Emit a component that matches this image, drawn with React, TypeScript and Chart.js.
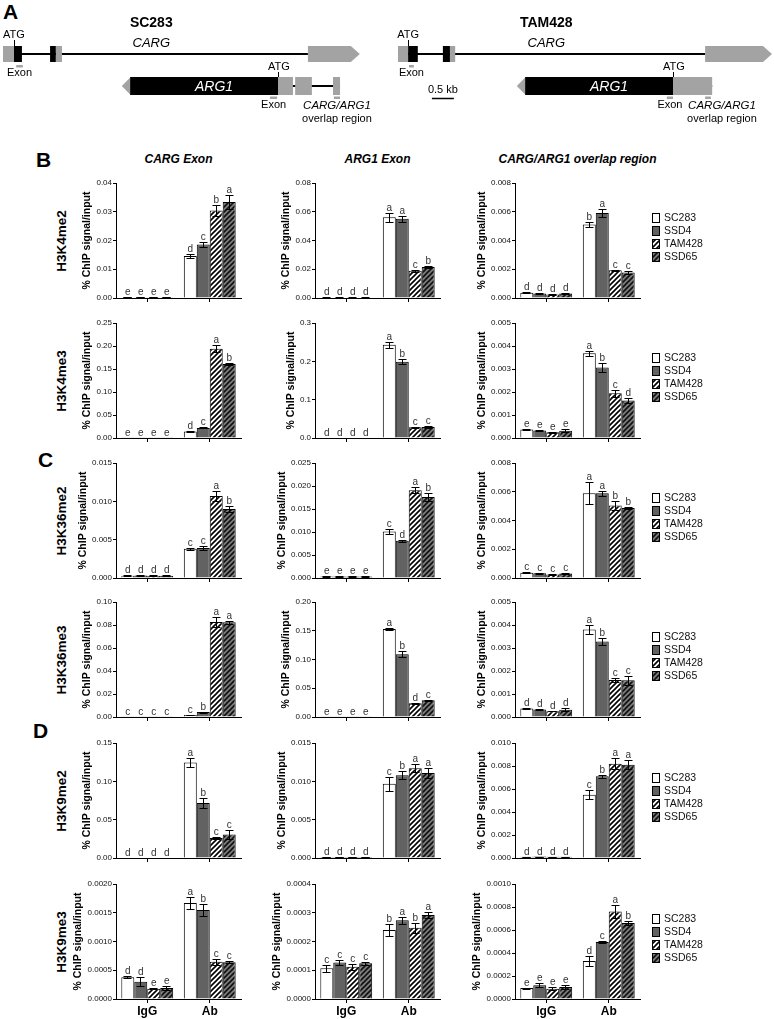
import React, { useEffect, useRef } from 'react';
import { Chart, registerables } from 'chart.js';

Chart.register(...registerables);
Chart.defaults.font.family = "'Liberation Sans', Arial, Helvetica, sans-serif";

const FONT = "'Liberation Sans', Arial, Helvetica, sans-serif";

// ---------- categories ----------
const GROUPS = ['IgG', 'Ab'];
const LINES = ['SC283', 'SSD4', 'TAM428', 'SSD65'];
const MARKS = ['H3K4me2', 'H3K4me3', 'H3K36me2', 'H3K36me3', 'H3K9me2', 'H3K9me3'];
const REGIONS = ['CARG Exon', 'ARG1 Exon', 'CARG/ARG1 overlap region'];
const PANEL_LETTERS = ['B', 'C', 'D'];

// order inside each array: IgG(SC283, SSD4, TAM428, SSD65), Ab(SC283, SSD4, TAM428, SSD65)

// ---------- H3K4me2 ----------
const K4ME2_CARG_MEAN = [0.0003, 0.0003, 0.0003, 0.0003, 0.0146, 0.0186, 0.0304, 0.0334];
const K4ME2_CARG_ERR = [0.00005, 0.00005, 0.00005, 0.00005, 0.0007, 0.001, 0.002, 0.0026];
const K4ME2_CARG_SIG = ['e', 'e', 'e', 'e', 'd', 'c', 'b', 'a'];
const K4ME2_CARG_TICKS = ['0.00', '0.01', '0.02', '0.03', '0.04'];

const K4ME2_ARG1_MEAN = [0.0004, 0.0004, 0.0004, 0.0004, 0.0562, 0.0551, 0.019, 0.0215];
const K4ME2_ARG1_ERR = [0.0001, 0.0001, 0.0001, 0.0001, 0.0032, 0.0022, 0.0008, 0.0008];
const K4ME2_ARG1_SIG = ['d', 'd', 'd', 'd', 'a', 'a', 'c', 'b'];
const K4ME2_ARG1_TICKS = ['0.00', '0.02', '0.04', '0.06', '0.08'];

const K4ME2_OVL_MEAN = [0.00036, 0.00032, 0.00025, 0.00031, 0.00512, 0.00592, 0.00193, 0.00177];
const K4ME2_OVL_ERR = [0.00003, 0.00002, 0.00002, 0.00006, 0.0002, 0.00028, 0.00005, 0.00009];
const K4ME2_OVL_SIG = ['d', 'd', 'd', 'd', 'b', 'a', 'c', 'c'];
const K4ME2_OVL_TICKS = ['0.000', '0.002', '0.004', '0.006', '0.008'];

// ---------- H3K4me3 ----------
const K4ME3_CARG_MEAN = [0.0006, 0.0006, 0.0006, 0.0006, 0.014, 0.022, 0.194, 0.161];
const K4ME3_CARG_ERR = [0.0002, 0.0002, 0.0002, 0.0002, 0.001, 0.001, 0.008, 0.003];
const K4ME3_CARG_SIG = ['e', 'e', 'e', 'e', 'd', 'c', 'a', 'b'];
const K4ME3_CARG_TICKS = ['0.00', '0.05', '0.10', '0.15', '0.20', '0.25'];

const K4ME3_ARG1_MEAN = [0.001, 0.001, 0.001, 0.001, 0.243, 0.199, 0.028, 0.029];
const K4ME3_ARG1_ERR = [0.0003, 0.0003, 0.0003, 0.0003, 0.008, 0.007, 0.002, 0.002];
const K4ME3_ARG1_SIG = ['d', 'd', 'd', 'd', 'a', 'b', 'c', 'c'];
const K4ME3_ARG1_TICKS = ['0.0', '0.1', '0.2', '0.3'];

const K4ME3_OVL_MEAN = [0.00037, 0.00033, 0.00025, 0.00031, 0.00368, 0.00307, 0.00195, 0.00163];
const K4ME3_OVL_ERR = [0.00003, 0.00002, 0.00002, 0.00006, 0.00011, 0.0002, 0.00015, 0.0001];
const K4ME3_OVL_SIG = ['e', 'e', 'e', 'e', 'a', 'b', 'c', 'd'];
const K4ME3_OVL_TICKS = ['0.000', '0.001', '0.002', '0.003', '0.004', '0.005'];

// ---------- H3K36me2 ----------
const K36ME2_CARG_MEAN = [0.0003, 0.00033, 0.0003, 0.00028, 0.0038, 0.0039, 0.0107, 0.009];
const K36ME2_CARG_ERR = [0.00005, 0.00005, 0.0001, 0.00005, 0.00015, 0.0003, 0.0006, 0.0004];
const K36ME2_CARG_SIG = ['d', 'd', 'd', 'd', 'c', 'c', 'a', 'b'];
const K36ME2_CARG_TICKS = ['0.000', '0.005', '0.010', '0.015'];

const K36ME2_ARG1_MEAN = [0.0003, 0.0003, 0.0003, 0.0003, 0.0101, 0.0081, 0.0191, 0.0176];
const K36ME2_ARG1_ERR = [0.00005, 0.00005, 0.00005, 0.00005, 0.0005, 0.0002, 0.0007, 0.0009];
const K36ME2_ARG1_SIG = ['e', 'e', 'e', 'e', 'c', 'd', 'a', 'b'];
const K36ME2_ARG1_TICKS = ['0.000', '0.005', '0.010', '0.015', '0.020', '0.025'];

const K36ME2_OVL_MEAN = [0.00037, 0.00033, 0.00025, 0.00031, 0.0059, 0.0059, 0.00505, 0.00487];
const K36ME2_OVL_ERR = [0.00002, 0.00002, 0.00002, 0.00005, 0.00078, 0.00018, 0.0003, 0.0001];
const K36ME2_OVL_SIG = ['c', 'c', 'c', 'c', 'a', 'a', 'b', 'b'];
const K36ME2_OVL_TICKS = ['0.000', '0.002', '0.004', '0.006', '0.008'];

// ---------- H3K36me3 ----------
const K36ME3_CARG_MEAN = [0.0003, 0.0003, 0.0003, 0.0003, 0.0018, 0.0043, 0.0826, 0.0823];
const K36ME3_CARG_ERR = [0.0001, 0.0001, 0.0001, 0.0001, 0.0003, 0.0004, 0.004, 0.0015];
const K36ME3_CARG_SIG = ['c', 'c', 'c', 'c', 'c', 'b', 'a', 'a'];
const K36ME3_CARG_TICKS = ['0.00', '0.02', '0.04', '0.06', '0.08', '0.10'];

const K36ME3_ARG1_MEAN = [0.0005, 0.0005, 0.0005, 0.0005, 0.153, 0.109, 0.024, 0.029];
const K36ME3_ARG1_ERR = [0.0002, 0.0002, 0.0002, 0.0002, 0.002, 0.005, 0.0012, 0.0012];
const K36ME3_ARG1_SIG = ['e', 'e', 'e', 'e', 'a', 'b', 'd', 'c'];
const K36ME3_ARG1_TICKS = ['0.00', '0.05', '0.10', '0.15', '0.20'];

const K36ME3_OVL_MEAN = [0.00037, 0.00033, 0.00025, 0.00031, 0.0038, 0.00328, 0.00161, 0.0016];
const K36ME3_OVL_ERR = [0.00003, 0.00002, 0.00001, 0.00006, 0.0002, 0.00015, 0.00007, 0.0002];
const K36ME3_OVL_SIG = ['d', 'd', 'd', 'd', 'a', 'b', 'c', 'c'];
const K36ME3_OVL_TICKS = ['0.000', '0.001', '0.002', '0.003', '0.004', '0.005'];

// ---------- H3K9me2 ----------
const K9ME2_CARG_MEAN = [0.0005, 0.0005, 0.0005, 0.0005, 0.1245, 0.0717, 0.026, 0.0305];
const K9ME2_CARG_ERR = [0.0001, 0.0001, 0.0001, 0.0001, 0.006, 0.006, 0.0015, 0.0055];
const K9ME2_CARG_SIG = ['d', 'd', 'd', 'd', 'a', 'b', 'c', 'c'];
const K9ME2_CARG_TICKS = ['0.00', '0.05', '0.10', '0.15'];

const K9ME2_ARG1_MEAN = [0.00012, 0.00012, 0.00012, 0.00012, 0.0097, 0.0108, 0.0117, 0.0111];
const K9ME2_ARG1_ERR = [0.00002, 0.00002, 0.00002, 0.00002, 0.0009, 0.0005, 0.0005, 0.0007];
const K9ME2_ARG1_SIG = ['d', 'd', 'd', 'd', 'c', 'b', 'a', 'a'];
const K9ME2_ARG1_TICKS = ['0.000', '0.005', '0.010', '0.015'];

const K9ME2_OVL_MEAN = [0.0001, 0.00012, 0.0001, 0.00011, 0.0055, 0.0071, 0.0082, 0.0081];
const K9ME2_OVL_ERR = [0.00001, 0.00001, 0.00001, 0.00001, 0.0004, 0.00015, 0.0005, 0.0004];
const K9ME2_OVL_SIG = ['d', 'd', 'd', 'd', 'c', 'b', 'a', 'a'];
const K9ME2_OVL_TICKS = ['0.000', '0.002', '0.004', '0.006', '0.008', '0.010'];

// ---------- H3K9me3 ----------
const K9ME3_CARG_MEAN = [0.00038, 0.0003, 0.00018, 0.00019, 0.00167, 0.00155, 0.00065, 0.00064];
const K9ME3_CARG_ERR = [0.00002, 0.00008, 0.00001, 0.00003, 0.0001, 0.0001, 0.00005, 0.00002];
const K9ME3_CARG_SIG = ['d', 'd', 'e', 'e', 'a', 'b', 'c', 'c'];
const K9ME3_CARG_TICKS = ['0.0000', '0.0005', '0.0010', '0.0015', '0.0020'];

const K9ME3_ARG1_MEAN = [0.000107, 0.000127, 0.000112, 0.000124, 0.00024, 0.000274, 0.000248, 0.000292];
const K9ME3_ARG1_ERR = [0.000012, 0.000007, 0.00001, 0.000006, 0.00002, 0.000012, 0.000017, 0.00001];
const K9ME3_ARG1_SIG = ['c', 'c', 'c', 'c', 'b', 'a', 'b', 'a'];
const K9ME3_ARG1_TICKS = ['0.0000', '0.0001', '0.0002', '0.0003', '0.0004'];

const K9ME3_OVL_MEAN = [0.000095, 0.00012, 0.00009, 0.000105, 0.00033, 0.000495, 0.00076, 0.00066];
const K9ME3_OVL_ERR = [0.000005, 0.000015, 0.000015, 0.00002, 0.000045, 0.000008, 0.000055, 0.00002];
const K9ME3_OVL_SIG = ['e', 'e', 'e', 'e', 'd', 'c', 'a', 'b'];
const K9ME3_OVL_TICKS = ['0.0000', '0.0002', '0.0004', '0.0006', '0.0008', '0.0010'];

// ---------- gene diagram features (kb from CARG start) ----------
const SC283_CARG_GRAY = [[0, 0.25], [1.2, 1.34]];
const SC283_CARG_CDS = [[0.25, 0.43], [1.07, 1.2]];
const SC283_CARG_UTR3 = [6.93, 8.11];
const SC283_ARG1_TIP = [2.7, 2.89];
const SC283_ARG1_CDS = [2.89, 6.25];
const SC283_ARG1_GRAY = [[6.25, 6.59], [6.64, 7.02], [7.5, 7.66]];
const SC283_ATG = [0.25, 6.25];
const SC283_PROBES = [[0.3, 0.45], [6.07, 6.23], [7.52, 7.66]];

const TAM428_CARG_GRAY = [[0, 0.23], [1.18, 1.3]];
const TAM428_CARG_CDS = [[0.23, 0.45], [1.02, 1.18]];
const TAM428_CARG_UTR3 = [6.98, 8.5];
const TAM428_ARG1_TIP = [2.7, 2.89];
const TAM428_ARG1_CDS = [2.89, 6.25];
const TAM428_ARG1_GRAY = [[6.25, 7.14]];
const TAM428_ATG = [0.23, 6.25];
const TAM428_PROBES = [[0.25, 0.36], [6.11, 6.25], [6.98, 7.11]];
const SCALE_BAR_KB = [0.77, 1.27];

// ---------- tables built from the arrays ----------
type PanelData = { mean: number[]; err: number[]; sig: string[]; ticks: string[] };
const PANELS: PanelData[][] = [
  [
    { mean: K4ME2_CARG_MEAN, err: K4ME2_CARG_ERR, sig: K4ME2_CARG_SIG, ticks: K4ME2_CARG_TICKS },
    { mean: K4ME2_ARG1_MEAN, err: K4ME2_ARG1_ERR, sig: K4ME2_ARG1_SIG, ticks: K4ME2_ARG1_TICKS },
    { mean: K4ME2_OVL_MEAN, err: K4ME2_OVL_ERR, sig: K4ME2_OVL_SIG, ticks: K4ME2_OVL_TICKS },
  ],
  [
    { mean: K4ME3_CARG_MEAN, err: K4ME3_CARG_ERR, sig: K4ME3_CARG_SIG, ticks: K4ME3_CARG_TICKS },
    { mean: K4ME3_ARG1_MEAN, err: K4ME3_ARG1_ERR, sig: K4ME3_ARG1_SIG, ticks: K4ME3_ARG1_TICKS },
    { mean: K4ME3_OVL_MEAN, err: K4ME3_OVL_ERR, sig: K4ME3_OVL_SIG, ticks: K4ME3_OVL_TICKS },
  ],
  [
    { mean: K36ME2_CARG_MEAN, err: K36ME2_CARG_ERR, sig: K36ME2_CARG_SIG, ticks: K36ME2_CARG_TICKS },
    { mean: K36ME2_ARG1_MEAN, err: K36ME2_ARG1_ERR, sig: K36ME2_ARG1_SIG, ticks: K36ME2_ARG1_TICKS },
    { mean: K36ME2_OVL_MEAN, err: K36ME2_OVL_ERR, sig: K36ME2_OVL_SIG, ticks: K36ME2_OVL_TICKS },
  ],
  [
    { mean: K36ME3_CARG_MEAN, err: K36ME3_CARG_ERR, sig: K36ME3_CARG_SIG, ticks: K36ME3_CARG_TICKS },
    { mean: K36ME3_ARG1_MEAN, err: K36ME3_ARG1_ERR, sig: K36ME3_ARG1_SIG, ticks: K36ME3_ARG1_TICKS },
    { mean: K36ME3_OVL_MEAN, err: K36ME3_OVL_ERR, sig: K36ME3_OVL_SIG, ticks: K36ME3_OVL_TICKS },
  ],
  [
    { mean: K9ME2_CARG_MEAN, err: K9ME2_CARG_ERR, sig: K9ME2_CARG_SIG, ticks: K9ME2_CARG_TICKS },
    { mean: K9ME2_ARG1_MEAN, err: K9ME2_ARG1_ERR, sig: K9ME2_ARG1_SIG, ticks: K9ME2_ARG1_TICKS },
    { mean: K9ME2_OVL_MEAN, err: K9ME2_OVL_ERR, sig: K9ME2_OVL_SIG, ticks: K9ME2_OVL_TICKS },
  ],
  [
    { mean: K9ME3_CARG_MEAN, err: K9ME3_CARG_ERR, sig: K9ME3_CARG_SIG, ticks: K9ME3_CARG_TICKS },
    { mean: K9ME3_ARG1_MEAN, err: K9ME3_ARG1_ERR, sig: K9ME3_ARG1_SIG, ticks: K9ME3_ARG1_TICKS },
    { mean: K9ME3_OVL_MEAN, err: K9ME3_OVL_ERR, sig: K9ME3_OVL_SIG, ticks: K9ME3_OVL_TICKS },
  ],
];

type GeneData = {
  name: string; cargGray: number[][]; cargCds: number[][]; cargUtr3: number[];
  arg1Tip: number[]; arg1Cds: number[]; arg1Gray: number[][]; atg: number[]; probes: number[][];
  scaleBar?: number[];
};
const GENES: GeneData[] = [
  { name: 'SC283', cargGray: SC283_CARG_GRAY, cargCds: SC283_CARG_CDS, cargUtr3: SC283_CARG_UTR3,
    arg1Tip: SC283_ARG1_TIP, arg1Cds: SC283_ARG1_CDS, arg1Gray: SC283_ARG1_GRAY, atg: SC283_ATG, probes: SC283_PROBES },
  { name: 'TAM428', cargGray: TAM428_CARG_GRAY, cargCds: TAM428_CARG_CDS, cargUtr3: TAM428_CARG_UTR3,
    arg1Tip: TAM428_ARG1_TIP, arg1Cds: TAM428_ARG1_CDS, arg1Gray: TAM428_ARG1_GRAY, atg: TAM428_ATG, probes: TAM428_PROBES,
    scaleBar: SCALE_BAR_KB },
];

// ---------- layout (pixels) ----------
const AXIS_X = [116, 315, 515];
const ROW_TOP = [183, 323, 463, 602, 743, 884];
const PLOT_W = 125;
const PLOT_H = 115;
const PAD_L = 64;
const PAD_T = 14;
const PAD_B = 24;
const LEGEND_W = 95;
const PANEL_LETTER_TOP = [149, 449, 720];
const PANEL_LETTER_LEFT = [36, 38, 33];
const GENE_LEFT = [0, 387];
const GENE_ORIGIN = [3, 11];
const GENE_W = 387;
const GENE_H = 135;
const PX_PER_KB = 44;
const LABEL_SHIFT = [0, 14];

function makeHatch(bg: string, fg: string): CanvasPattern | string {
  const s = 5;
  const c = document.createElement('canvas');
  c.width = s; c.height = s;
  const g = c.getContext('2d');
  if (!g) return bg;
  g.fillStyle = bg; g.fillRect(0, 0, s, s);
  g.strokeStyle = fg; g.lineWidth = 1.6;
  g.beginPath();
  g.moveTo(-1, s + 1); g.lineTo(s + 1, -1);
  g.moveTo(-1, 1); g.lineTo(1, -1);
  g.moveTo(s - 1, s + 1); g.lineTo(s + 1, s - 1);
  g.stroke();
  return g.createPattern(c, 'repeat') || bg;
}

function BarPanel({ d, row, col, legend, xLabels }: { d: PanelData; row: number; col: number; legend: boolean; xLabels: boolean }) {
  const ref = useRef<HTMLCanvasElement | null>(null);
  const padR = legend ? LEGEND_W : 6;
  const W = PAD_L + PLOT_W + padR;
  const H = PAD_T + PLOT_H + PAD_B;
  useEffect(() => {
    const canvas = ref.current;
    if (!canvas) return;
    const fills = ['#ffffff', '#626262', makeHatch('#ffffff', '#000000'), makeHatch('#7c7c7c', '#111111')];
    const tickVals = d.ticks.map(Number);
    const overlay = {
      id: 'overlay',
      afterDatasetsDraw(chart: any) {
        const ctx = chart.ctx as CanvasRenderingContext2D;
        const ys = chart.scales.y;
        const area = chart.chartArea;
        ctx.save();
        LINES.forEach((_, l) => {
          const meta = chart.getDatasetMeta(l);
          meta.data.forEach((bar: any, g: number) => {
            const k = g * 4 + l;
            const v = d.mean[k];
            const e = d.err[k];
            const x = Math.round(bar.x - 0.5) + 0.5;
            const yHi = Math.round(ys.getPixelForValue(v + e)) + 0.5;
            const yLo = Math.round(ys.getPixelForValue(Math.max(0, v - e))) + 0.5;
            ctx.strokeStyle = '#000';
            ctx.lineWidth = 1;
            ctx.beginPath();
            ctx.moveTo(x, yLo); ctx.lineTo(x, yHi);
            ctx.moveTo(x - 4, yHi); ctx.lineTo(x + 4, yHi);
            ctx.moveTo(x - 4, yLo); ctx.lineTo(x + 4, yLo);
            ctx.stroke();
            ctx.fillStyle = '#333';
            ctx.font = `10px ${FONT}`;
            ctx.textAlign = 'center';
            ctx.textBaseline = 'alphabetic';
            ctx.fillText(d.sig[k], bar.x, yHi - 3);
          });
        });
        // y-axis title
        ctx.font = `8px ${FONT}`;
        let maxW = 0;
        d.ticks.forEach((t) => { maxW = Math.max(maxW, ctx.measureText(t).width); });
        const tx = area.left - 4 - maxW - 9;
        ctx.save();
        ctx.translate(tx, (area.top + area.bottom) / 2);
        ctx.rotate(-Math.PI / 2);
        ctx.fillStyle = '#000';
        ctx.font = `bold 10.5px ${FONT}`;
        ctx.textAlign = 'center';
        ctx.textBaseline = 'middle';
        ctx.fillText('% ChIP signal/input', 0, 0);
        ctx.restore();
        // legend
        if (legend) {
          const x0 = area.right + 12;
          const mid = (area.top + area.bottom) / 2 - 3;
          LINES.forEach((name, l) => {
            const cy = mid - 19.5 + l * 13;
            ctx.fillStyle = fills[l] as any;
            ctx.fillRect(x0, Math.round(cy - 5), 8, 10);
            ctx.strokeStyle = '#000';
            ctx.lineWidth = 1;
            ctx.strokeRect(x0 + 0.5, Math.round(cy - 5) + 0.5, 7, 9);
            ctx.fillStyle = '#111';
            ctx.font = `10.5px ${FONT}`;
            ctx.textAlign = 'left';
            ctx.textBaseline = 'middle';
            ctx.fillText(name, x0 + 12, cy + 0.5);
          });
        }
        ctx.restore();
      },
    };
    const chart = new Chart(canvas, {
      type: 'bar',
      data: {
        labels: GROUPS,
        datasets: LINES.map((name, l) => ({
          label: name,
          data: GROUPS.map((_, g) => d.mean[g * 4 + l]),
          backgroundColor: fills[l] as any,
          borderColor: '#000',
          borderWidth: 1,
          categoryPercentage: 0.83,
          barPercentage: 1,
        })),
      },
      options: {
        animation: false,
        responsive: false,
        devicePixelRatio: 1,
        events: [],
        layout: { padding: { left: 0, top: PAD_T, right: padR, bottom: 0 } },
        plugins: { legend: { display: false }, tooltip: { enabled: false } },
        scales: {
          x: {
            offset: true,
            grid: { display: true, offset: false, drawOnChartArea: false, drawTicks: true, tickLength: 4, color: '#000', tickColor: '#000' },
            border: { display: true, color: '#000', width: 1 },
            ticks: { display: xLabels, color: '#000', padding: 1, font: { size: 12, weight: 'bold' } },
            afterFit: (s: any) => { s.height = PAD_B; },
          },
          y: {
            min: 0,
            max: tickVals[tickVals.length - 1],
            grid: { display: true, drawOnChartArea: false, drawTicks: true, tickLength: 3, color: '#000', tickColor: '#000' },
            border: { display: true, color: '#000', width: 1 },
            ticks: {
              color: '#111',
              padding: 1,
              font: { size: 8 },
              callback: (_v: any, i: number) => d.ticks[i],
            },
            afterBuildTicks: (s: any) => { s.ticks = tickVals.map((v) => ({ value: v })); },
            afterFit: (s: any) => { s.width = PAD_L; },
          },
        },
      } as any,
      plugins: [overlay],
    });
    return () => chart.destroy();
  }, []);
  return (
    <canvas
      ref={ref}
      width={W}
      height={H}
      style={{ position: 'absolute', left: AXIS_X[col] - PAD_L, top: ROW_TOP[row] - PAD_T, width: W, height: H }}
    />
  );
}

function GeneDiagram({ g, idx }: { g: GeneData; idx: number }) {
  const ref = useRef<HTMLCanvasElement | null>(null);
  useEffect(() => {
    const canvas = ref.current;
    if (!canvas) return;
    const GRAY = '#a3a3a3';
    const xmin = -GENE_ORIGIN[idx] / PX_PER_KB;
    const xmax = xmin + GENE_W / PX_PER_KB;
    const draw = {
      id: 'gene',
      afterDraw(chart: any) {
        const ctx = chart.ctx as CanvasRenderingContext2D;
        const xs = chart.scales.x;
        const X = (v: number) => xs.getPixelForValue(v);
        const yC = 54, hC = 8, yA = 86, hA = 9;
        ctx.save();
        ctx.strokeStyle = '#000';
        ctx.lineWidth = 2;
        ctx.beginPath();
        ctx.moveTo(X(g.cargGray[0][0]), yC); ctx.lineTo(X(g.cargUtr3[0]), yC);
        ctx.stroke();
        const last = g.arg1Gray[g.arg1Gray.length - 1][1];
        ctx.beginPath();
        ctx.moveTo(X(g.arg1Cds[1]), yA); ctx.lineTo(X(last), yA);
        ctx.stroke();
        ctx.fillStyle = GRAY;
        g.cargGray.forEach(([a, b]) => ctx.fillRect(X(a), yC - hC, X(b) - X(a), 2 * hC));
        ctx.fillStyle = '#000';
        g.cargCds.forEach(([a, b]) => ctx.fillRect(X(a), yC - hC, X(b) - X(a), 2 * hC));
        ctx.fillStyle = GRAY;
        const ua = X(g.cargUtr3[0]), ub = X(g.cargUtr3[1]);
        ctx.beginPath();
        ctx.moveTo(ua, yC - hC); ctx.lineTo(ub - 9, yC - hC); ctx.lineTo(ub, yC);
        ctx.lineTo(ub - 9, yC + hC); ctx.lineTo(ua, yC + hC); ctx.closePath();
        ctx.fill();
        ctx.beginPath();
        ctx.moveTo(X(g.arg1Tip[0]), yA);
        ctx.lineTo(X(g.arg1Tip[1]) + 0.5, yA - hA);
        ctx.lineTo(X(g.arg1Tip[1]) + 0.5, yA + hA);
        ctx.closePath();
        ctx.fill();
        ctx.fillStyle = '#000';
        ctx.fillRect(X(g.arg1Cds[0]), yA - hA, X(g.arg1Cds[1]) - X(g.arg1Cds[0]), 2 * hA);
        ctx.fillStyle = GRAY;
        g.arg1Gray.forEach(([a, b]) => ctx.fillRect(X(a), yA - hA, X(b) - X(a), 2 * hA));
        ctx.lineWidth = 1;
        ctx.strokeStyle = '#000';
        ctx.beginPath();
        ctx.moveTo(Math.round(X(g.atg[0])) + 0.5, 40); ctx.lineTo(Math.round(X(g.atg[0])) + 0.5, yC - hC);
        ctx.moveTo(Math.round(X(g.atg[1])) + 0.5, 72); ctx.lineTo(Math.round(X(g.atg[1])) + 0.5, yA - hA);
        ctx.stroke();
        ctx.fillStyle = GRAY;
        const p0 = g.probes[0];
        ctx.fillRect(X(p0[0]), 65, X(p0[1]) - X(p0[0]), 2.5);
        g.probes.slice(1).forEach(([a, b]) => ctx.fillRect(X(a), 96.5, X(b) - X(a), 2.5));
        ctx.fillStyle = '#000';
        ctx.textAlign = 'center';
        ctx.textBaseline = 'middle';
        const mid = (p: number[]) => (X(p[0]) + X(p[1])) / 2;
        ctx.font = `bold 14px ${FONT}`;
        ctx.fillText(g.name, X(3.37), 23);
        ctx.font = `italic 13px ${FONT}`;
        ctx.fillText('CARG', X(3.37), 43);
        ctx.font = `11px ${FONT}`;
        ctx.fillText('ATG', X(g.atg[0]), 35);
        ctx.fillText('ATG', X(g.atg[1]) + 1, 67);
        ctx.fillText('Exon', mid(p0), 73);
        ctx.fillText('Exon', mid(g.probes[1]), 105);
        ctx.font = `italic 11.5px ${FONT}`;
        ctx.fillText('CARG/ARG1', mid(g.probes[2]) + LABEL_SHIFT[idx], 106);
        ctx.font = `11px ${FONT}`;
        ctx.fillText('overlap region', mid(g.probes[2]) + LABEL_SHIFT[idx], 119);
        ctx.fillStyle = '#fff';
        ctx.font = `italic 14px ${FONT}`;
        ctx.fillText('ARG1', (X(g.arg1Cds[0]) + X(g.arg1Cds[1])) / 2 + 10, yA + 1);
        if (g.scaleBar) {
          ctx.fillStyle = '#000';
          ctx.font = `11px ${FONT}`;
          ctx.fillText('0.5 kb', mid(g.scaleBar), 90);
          ctx.lineWidth = 1.5;
          ctx.beginPath();
          ctx.moveTo(X(g.scaleBar[0]), 98.5); ctx.lineTo(X(g.scaleBar[1]), 98.5);
          ctx.stroke();
        }
        ctx.restore();
      },
    };
    const chart = new Chart(canvas, {
      type: 'scatter',
      data: { datasets: [{ data: [] }] },
      options: {
        animation: false,
        responsive: false,
        devicePixelRatio: 1,
        events: [],
        layout: { padding: 0 },
        plugins: { legend: { display: false }, tooltip: { enabled: false } },
        scales: {
          x: { type: 'linear', min: xmin, max: xmax, display: false },
          y: { type: 'linear', min: 0, max: 1, display: false },
        },
      } as any,
      plugins: [draw],
    });
    return () => chart.destroy();
  }, []);
  return (
    <canvas
      ref={ref}
      width={GENE_W}
      height={GENE_H}
      style={{ position: 'absolute', left: GENE_LEFT[idx], top: 0, width: GENE_W, height: GENE_H }}
    />
  );
}

export default function App() {
  const panelLetter = (t: string, left: number, top: number) => (
    <div key={t} style={{ position: 'absolute', left, top, fontSize: 21, fontWeight: 'bold', lineHeight: '21px' }}>{t}</div>
  );
  return (
    <div style={{ position: 'absolute', left: 0, top: 0, width: 774, height: 1019, background: '#fff', fontFamily: FONT, color: '#000', overflow: 'hidden' }}>
      {panelLetter('A', 3, 1)}
      {GENES.map((g, i) => <GeneDiagram key={g.name} g={g} idx={i} />)}
      {PANEL_LETTERS.map((t, i) => panelLetter(t, PANEL_LETTER_LEFT[i], PANEL_LETTER_TOP[i]))}
      {REGIONS.map((r, c) => (
        <div key={r} style={{ position: 'absolute', left: AXIS_X[c] + PLOT_W / 2 - 120, top: 151, width: 240, textAlign: 'center', fontSize: 12, fontWeight: 'bold', fontStyle: 'italic', lineHeight: '16px' }}>{r}</div>
      ))}
      {MARKS.map((m, r) => (
        <div key={m} style={{ position: 'absolute', left: 62 - 60, top: ROW_TOP[r] + PLOT_H / 2 - 8, width: 120, height: 16, textAlign: 'center', fontSize: 13.5, fontWeight: 'bold', lineHeight: '16px', transform: 'rotate(-90deg)' }}>{m}</div>
      ))}
      {PANELS.map((rowPanels, r) =>
        rowPanels.map((d, c) => (
          <BarPanel key={`${r}-${c}`} d={d} row={r} col={c} legend={c === 2} xLabels={r === PANELS.length - 1} />
        ))
      )}
    </div>
  );
}
